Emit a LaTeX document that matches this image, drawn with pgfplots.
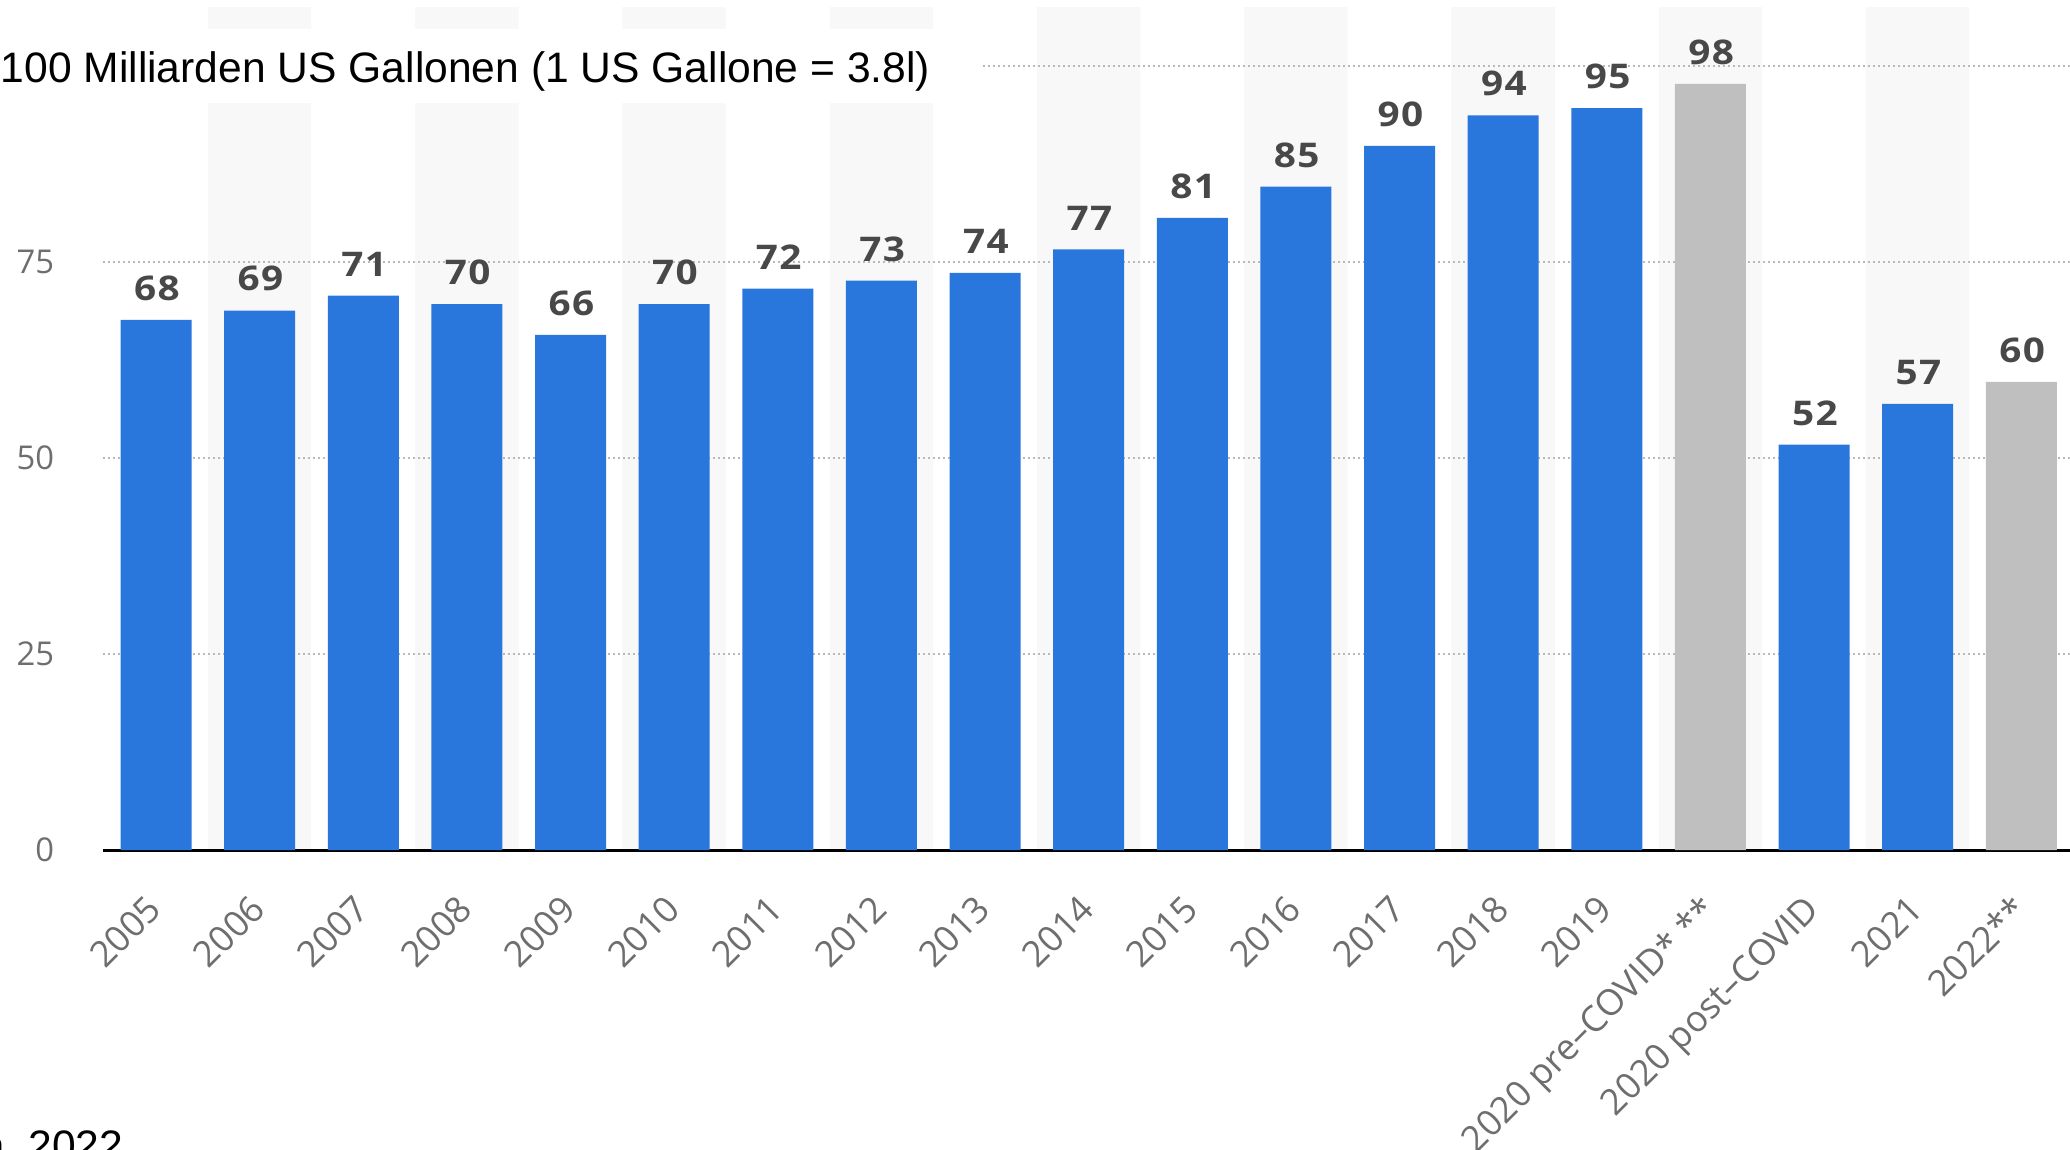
\documentclass[border=0pt]{standalone}
\usepackage{pgfplots}
\pgfplotsset{compat=1.18}
\usepackage{pgfplotstable}
\usepackage{fontspec}
\setmainfont{Liberation Sans}
\newfontfamily\osans{Open Sans}
\newfontfamily\osansb[FakeStretch=1.14,LetterSpace=4]{Open Sans Bold}
\definecolor{sblue}{RGB}{41,118,221}
\definecolor{sgray}{RGB}{191,191,191}
\definecolor{band}{RGB}{248,248,248}
\definecolor{tickc}{RGB}{110,110,110}
\definecolor{labc}{RGB}{72,72,72}
\definecolor{gridc}{RGB}{185,185,185}

\pgfplotstableread{
x y
0 67.6
1 68.8
2 70.7
3 69.6
4 65.7
5 69.6
6 71.6
7 72.6
8 73.6
9 76.6
10 80.6
11 84.6
12 89.8
13 93.7
14 94.6
16 51.7
17 56.9
}\blueData
\pgfplotstableread{
x y
15 97.7
18 59.7
}\grayData
\pgfplotstableread{
x y
1 107.5
3 107.5
5 107.5
7 107.5
9 107.5
11 107.5
13 107.5
15 107.5
17 107.5
}\bandData

\begin{document}
\begin{tikzpicture}
\begin{axis}[
  at={(25.75pt,74.75pt)}, anchor=south west,
  scale only axis, width=491.75pt, height=212.5pt,
  xmin=-0.512, xmax=18.47, ymin=0, ymax=108.4,
  set layers, clip=false,
  separate axis lines,
  axis x line*=bottom,
  axis y line*=left,
  x axis line style={black, line width=0.75pt, -},
  y axis line style={draw=none},
  major tick length=0pt,
  /pgf/number format/assume math mode=true,
  /pgf/number format/fixed,
  /pgf/number format/precision=0,
  xtick={0,...,18},
  xticklabels={2005,2006,2007,2008,2009,2010,2011,2012,2013,2014,2015,2016,2017,2018,2019,{2020 pre–COVID* **},{2020 post–COVID},2021,2022**},
  xticklabel style={xshift=-2.75pt, yshift=-10.5pt, rotate=45, anchor=north east, inner sep=0pt, font=\osans\fontsize{9}{10}\selectfont, text=tickc},
  ytick={0,25,50,75,100},
  yticklabels={0,25,50,75,{}},
  yticklabel style={anchor=east, inner sep=0pt, xshift=-12pt, font=\osans\fontsize{8.2}{10}\selectfont, text=tickc},
  ymajorgrids,
  grid style={gridc, line width=0.5pt, dash pattern=on 0.5pt off 0.75pt},
  every node near coord/.append style={font=\osansb\fontsize{8.5}{10}\selectfont, text=labc, anchor=south, inner sep=0pt, yshift=4.6pt, xshift=0.2pt},
]
\addplot[ybar, bar shift=0pt, bar width=1, fill=band, draw=none, on layer=axis background] table[x=x,y=y] {\bandData};
\addplot[ybar, bar shift=0pt, bar width=0.686, fill=sblue, draw=none, nodes near coords] table[x=x,y=y] {\blueData};
\addplot[ybar, bar shift=0pt, bar width=0.686, fill=sgray, draw=none, nodes near coords] table[x=x,y=y] {\grayData};
\end{axis}
\fill[white] (0pt,261.5pt) rectangle (245pt,280pt);
\node[anchor=base west, inner sep=0pt, font=\fontsize{10.65}{12}\selectfont, text=black] at (0pt,266.5pt) {100 Milliarden US Gallonen (1 US Gallone = 3.8l)};
\node[anchor=base east, inner sep=0pt, font=\fontsize{10.65}{12}\selectfont, text=black] at (31pt,-2.75pt) {Statista, 2022};
\pgfresetboundingbox
\useasboundingbox (0pt,0pt) rectangle (517.5pt,287.25pt);
\end{tikzpicture}
\end{document}
